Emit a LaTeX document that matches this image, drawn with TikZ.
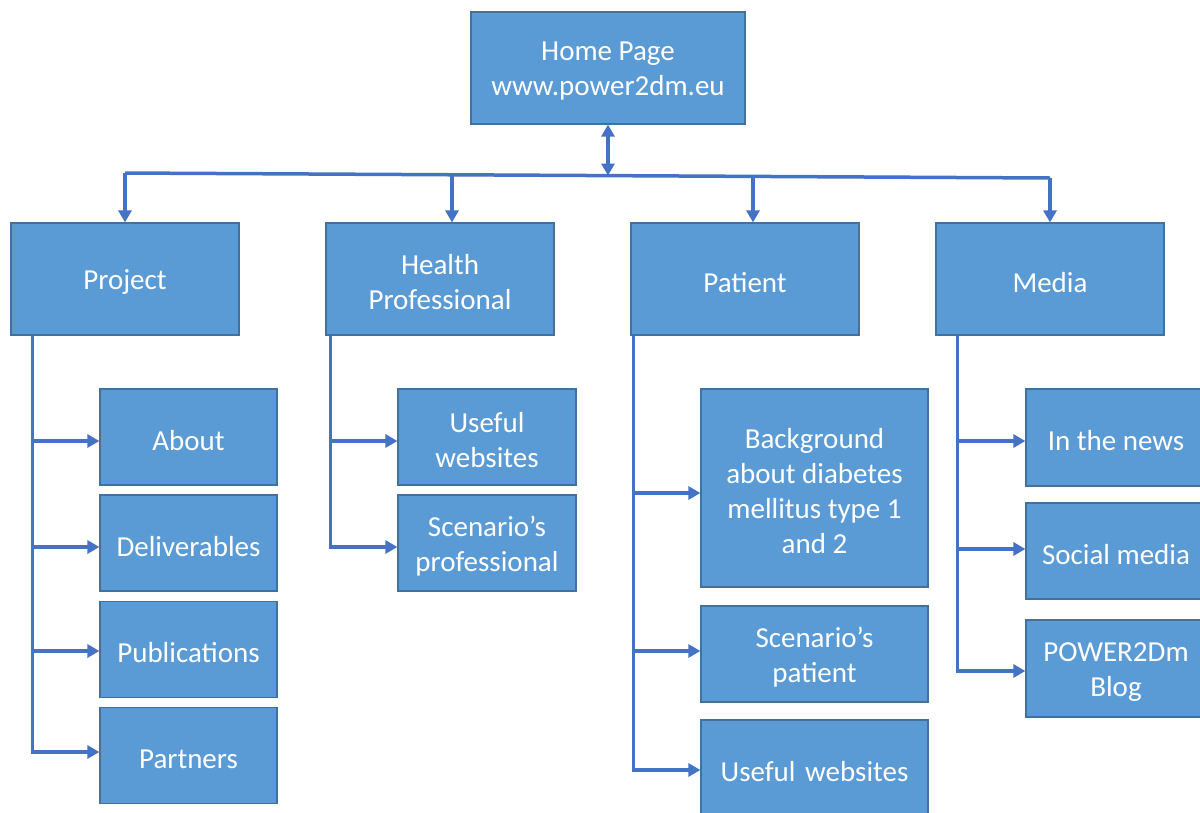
\documentclass[tikz,border=0pt]{standalone}
\usepackage{fontspec}
\setmainfont{Carlito}
\usetikzlibrary{arrows.meta}
\definecolor{boxfill}{HTML}{5B9BD5}
\definecolor{boxline}{HTML}{41719C}
\definecolor{conn}{HTML}{4472C4}
\begin{document}
\begin{tikzpicture}[x=1pt,y=-1pt,
  boxtext/.style={text=white,align=center,inner sep=0pt,font=\fontsize{29}{35}\selectfont},
  box/.style={draw=boxline,line width=1.2pt,fill=boxfill,inner sep=0pt},
  tx/.style={label={[boxtext,yshift=-3.5pt]center:{#1}}},
  txr/.style={label={[boxtext,yshift=-3.5pt,xshift=-10pt]center:{#1}}},
  bigbox/.style={box,minimum width=228pt,minimum height=112pt},
  subbox/.style={box,minimum width=177pt,minimum height=96pt},
  arr/.style={draw=conn,line width=3.5pt,-{Triangle[length=12pt,width=13pt]}},
  line/.style={draw=conn,line width=3.5pt}]
\useasboundingbox (0,0) rectangle (1200,812);
\node[box,minimum width=274pt,minimum height=112pt,tx={Home Page\\www.power2dm.eu}] (home) at (608,68) {};
\node[bigbox,tx={Project}] (proj) at (125,279) {};
\node[bigbox,tx={Health\\Professional}] (hp) at (440,279) {};
\node[bigbox,tx={Patient}] (pat) at (745,279) {};
\node[bigbox,tx={Media}] (media) at (1050,279) {};
% Project children
\node[subbox,tx={About}] (about) at (188.5,437) {};
\node[subbox,tx={Deliverables}] (deliv) at (188.5,543) {};
\node[subbox,tx={Publications}] (pub) at (188.5,649.5) {};
\node[subbox,tx={Partners}] (partn) at (188.5,755.5) {};
% HP children
\node[subbox,minimum width=178pt,tx={Useful\\websites}] (usefulhp) at (487,437) {};
\node[subbox,minimum width=178pt,tx={Scenario’s\\professional}] (scenprof) at (487,543) {};
% Patient children
\node[box,minimum width=227pt,minimum height=198pt,tx={Background\\about diabetes\\mellitus type 1\\and 2}] (backg) at (814.5,488) {};
\node[box,minimum width=227pt,minimum height=96pt,tx={Scenario’s\\patient}] (scenpat) at (814.5,654) {};
\node[box,minimum width=227pt,minimum height=96pt,tx={Useful\,\,websites}] (usefulpat) at (814.5,768) {};
% Media children
\node[box,minimum width=200pt,minimum height=97pt,txr={In the news}] (news) at (1126,437.5) {};
\node[box,minimum width=200pt,minimum height=96pt,txr={Social media}] (social) at (1126,551) {};
\node[box,minimum width=200pt,minimum height=97pt,txr={POWER2Dm\\Blog}] (blog) at (1126,668.5) {};
% bus
\coordinate (busL) at (125,173);
\coordinate (busR) at (1050,178);
\coordinate (busH) at (608,175.6);
\coordinate (busHP) at (452,174.8);
\coordinate (busPat) at (753,176.4);
\draw[line] (busL) -- (busR);
\draw[draw=conn,line width=3.5pt,{Triangle[length=12pt,width=13pt]}-{Triangle[length=12pt,width=13pt]}] (home.south) -- (busH);
\draw[arr] (busL) -- (proj.north);
\draw[arr] (busHP) -- (busHP |- hp.north);
\draw[arr] (busPat) -- (busPat |- pat.north);
\draw[arr] (busR) -- (media.north);
% Project spine
\coordinate (pj) at ([xshift=22pt]proj.south west);
\draw[arr] (pj) |- ([yshift=-4pt]about.west);
\draw[arr] (pj) |- ([yshift=-4pt]deliv.west);
\draw[arr] (pj) |- ([yshift=-1.5pt]pub.west);
\draw[arr] (pj) |- ([yshift=3.5pt]partn.west);
% HP spine
\coordinate (hj) at ([xshift=5pt]hp.south west);
\draw[arr] (hj) |- ([yshift=-4pt]usefulhp.west);
\draw[arr] (hj) |- ([yshift=-4pt]scenprof.west);
% Patient spine
\coordinate (paj) at ([xshift=3pt]pat.south west);
\draw[arr] (paj) |- ([yshift=-5pt]backg.west);
\draw[arr] (paj) |- ([yshift=3pt]scenpat.west);
\draw[arr] (paj) |- ([yshift=-2pt]usefulpat.west);
% Media spine
\coordinate (mj) at ([xshift=22pt]media.south west);
\draw[arr] (mj) |- ([yshift=-3.5pt]news.west);
\draw[arr] (mj) |- ([yshift=2pt]social.west);
\draw[arr] (mj) |- ([yshift=-2.5pt]blog.west);
\end{tikzpicture}
\end{document}
